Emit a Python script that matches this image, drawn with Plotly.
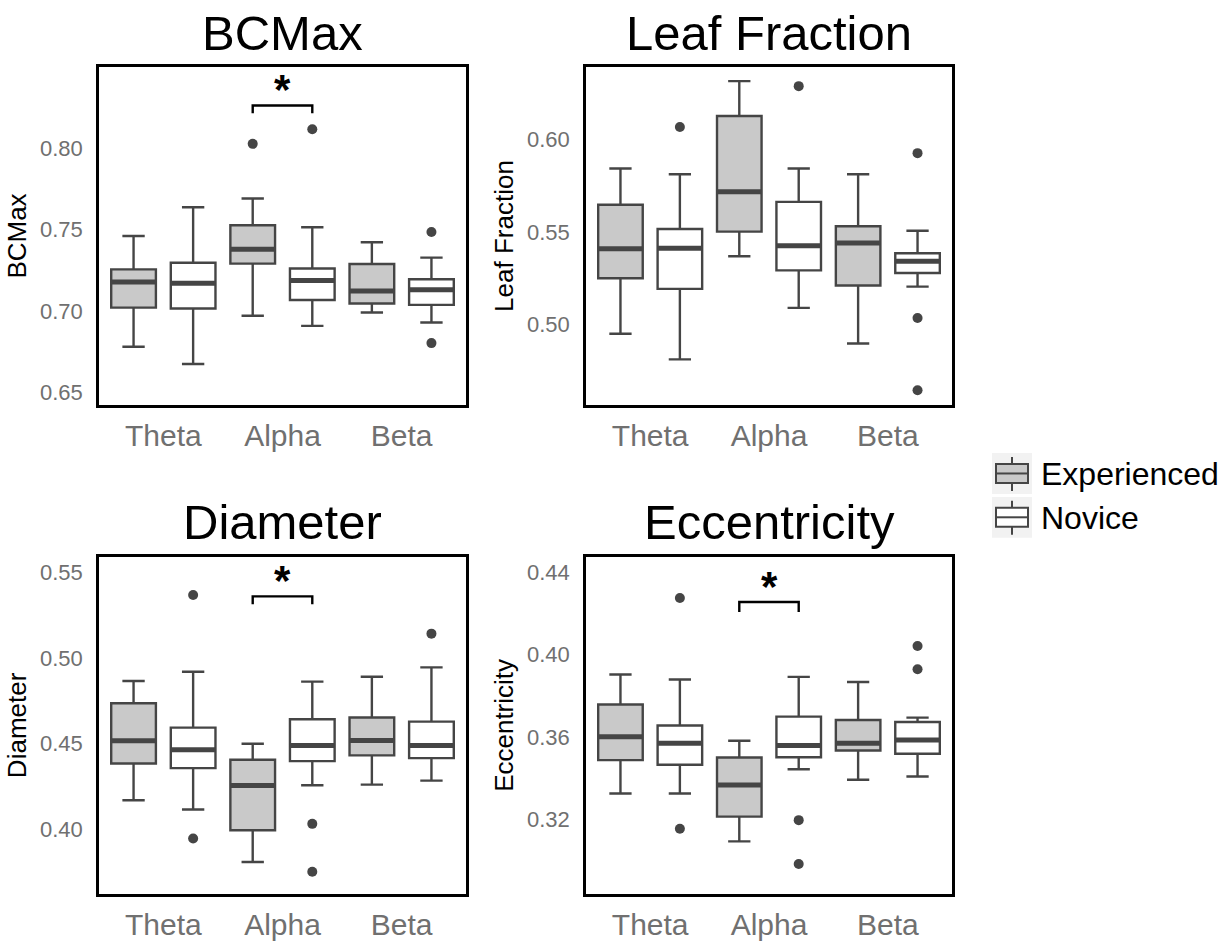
import plotly.graph_objects as go

# ---------------- data ----------------
bands = ["Theta", "Alpha", "Beta"]
groups = ["Experienced", "Novice"]

# BCMax
bcmax_exp_lo = [0.678, 0.697, 0.699]
bcmax_exp_q1 = [0.702, 0.729, 0.7045]
bcmax_exp_med = [0.7178, 0.7378, 0.7122]
bcmax_exp_q3 = [0.7255, 0.7526, 0.7288]
bcmax_exp_hi = [0.746, 0.769, 0.7422]
bcmax_nov_lo = [0.6674, 0.6908, 0.6929]
bcmax_nov_q1 = [0.7015, 0.7067, 0.7037]
bcmax_nov_med = [0.717, 0.7186, 0.7129]
bcmax_nov_q3 = [0.7296, 0.726, 0.7194]
bcmax_nov_hi = [0.7637, 0.7514, 0.7327]
bcmax_out_band = ["Alpha", "Alpha", "Beta", "Beta"]
bcmax_out_group = ["Experienced", "Novice", "Novice", "Novice"]
bcmax_out_val = [0.8026, 0.8116, 0.7484, 0.6802]

# Leaf Fraction
leaf_exp_lo = [0.4949, 0.5368, 0.4897]
leaf_exp_q1 = [0.5249, 0.5501, 0.5210]
leaf_exp_med = [0.5409, 0.5716, 0.5440]
leaf_exp_q3 = [0.5646, 0.6126, 0.5530]
leaf_exp_hi = [0.5842, 0.6314, 0.5811]
leaf_nov_lo = [0.4811, 0.5089, 0.5204]
leaf_nov_q1 = [0.5192, 0.5292, 0.5278]
leaf_nov_med = [0.5411, 0.5425, 0.5341]
leaf_nov_q3 = [0.5515, 0.5662, 0.5384]
leaf_nov_hi = [0.5811, 0.5842, 0.5506]
leaf_out_band = ["Theta", "Alpha", "Beta", "Beta", "Beta"]
leaf_out_group = ["Novice", "Novice", "Novice", "Novice", "Novice"]
leaf_out_val = [0.6066, 0.6287, 0.5925, 0.5034, 0.4644]

# Diameter
diam_exp_lo = [0.4170, 0.3810, 0.4261]
diam_exp_q1 = [0.4384, 0.3995, 0.4431]
diam_exp_med = [0.4516, 0.4255, 0.4518]
diam_exp_q3 = [0.4735, 0.4406, 0.4652]
diam_exp_hi = [0.4865, 0.4499, 0.4890]
diam_nov_lo = [0.4116, 0.4257, 0.4284]
diam_nov_q1 = [0.4357, 0.4398, 0.4415]
diam_nov_med = [0.4464, 0.4489, 0.4489]
diam_nov_q3 = [0.4593, 0.4642, 0.4628]
diam_nov_hi = [0.4919, 0.4861, 0.4944]
diam_out_band = ["Theta", "Theta", "Alpha", "Alpha", "Beta"]
diam_out_group = ["Novice", "Novice", "Novice", "Novice", "Novice"]
diam_out_val = [0.5366, 0.3947, 0.4032, 0.3753, 0.5141]

# Eccentricity
ecc_exp_lo = [0.3326, 0.3094, 0.3393]
ecc_exp_q1 = [0.3488, 0.3214, 0.3535]
ecc_exp_med = [0.3602, 0.3367, 0.3570]
ecc_exp_q3 = [0.3758, 0.3501, 0.3683]
ecc_exp_hi = [0.3903, 0.3582, 0.3867]
ecc_nov_lo = [0.3326, 0.3444, 0.3409]
ecc_nov_q1 = [0.3466, 0.3502, 0.3519]
ecc_nov_med = [0.3570, 0.3559, 0.3586]
ecc_nov_q3 = [0.3656, 0.3699, 0.3673]
ecc_nov_hi = [0.3879, 0.3892, 0.3694]
ecc_out_band = ["Theta", "Theta", "Alpha", "Alpha", "Beta", "Beta"]
ecc_out_group = ["Novice", "Novice", "Novice", "Novice", "Novice", "Novice"]
ecc_out_val = [0.4274, 0.3155, 0.3197, 0.2984, 0.4042, 0.3929]

# significance brackets (band compared, bracket height, tip height)
sig_band = ["Alpha", None, "Alpha", "Alpha"]
sig_top = [0.8262, None, 0.5358, 0.4255]
sig_tip = [0.8214, None, 0.5312, 0.4206]

titles = ["BCMax", "Leaf Fraction", "Diameter", "Eccentricity"]
yranges = [[0.642, 0.850], [0.4563, 0.6392], [0.3622, 0.559], [0.2838, 0.4475]]
ytickvals = [[0.65, 0.70, 0.75, 0.80], [0.50, 0.55, 0.60],
             [0.40, 0.45, 0.50, 0.55], [0.32, 0.36, 0.40, 0.44]]

# ---------------- style ----------------
W, H = 1223, 941
FONT = "Liberation Sans, Arial, Helvetica, sans-serif"
LINE = "#454545"
FILL = {"Experienced": "#c9c9c9", "Novice": "#ffffff"}
OFFSET = {"Experienced": -0.25, "Novice": 0.25}
BOXW = 0.375
TICKGRAY = "#707070"

xdom = [[99 / W, 466 / W], [586 / W, 952 / W]]
ydom = [[1 - 407 / H, 1 - 67 / H], [1 - 898 / H, 1 - 559 / H]]

panels = [
    dict(exp=(bcmax_exp_lo, bcmax_exp_q1, bcmax_exp_med, bcmax_exp_q3, bcmax_exp_hi),
         nov=(bcmax_nov_lo, bcmax_nov_q1, bcmax_nov_med, bcmax_nov_q3, bcmax_nov_hi),
         ob=bcmax_out_band, og=bcmax_out_group, ov=bcmax_out_val),
    dict(exp=(leaf_exp_lo, leaf_exp_q1, leaf_exp_med, leaf_exp_q3, leaf_exp_hi),
         nov=(leaf_nov_lo, leaf_nov_q1, leaf_nov_med, leaf_nov_q3, leaf_nov_hi),
         ob=leaf_out_band, og=leaf_out_group, ov=leaf_out_val),
    dict(exp=(diam_exp_lo, diam_exp_q1, diam_exp_med, diam_exp_q3, diam_exp_hi),
         nov=(diam_nov_lo, diam_nov_q1, diam_nov_med, diam_nov_q3, diam_nov_hi),
         ob=diam_out_band, og=diam_out_group, ov=diam_out_val),
    dict(exp=(ecc_exp_lo, ecc_exp_q1, ecc_exp_med, ecc_exp_q3, ecc_exp_hi),
         nov=(ecc_nov_lo, ecc_nov_q1, ecc_nov_med, ecc_nov_q3, ecc_nov_hi),
         ob=ecc_out_band, og=ecc_out_group, ov=ecc_out_val),
]

fig = go.Figure()
layout = dict(
    width=W, height=H, margin=dict(l=0, r=0, t=0, b=0),
    paper_bgcolor="white", plot_bgcolor="white", showlegend=False,
    font=dict(family=FONT), annotations=[], shapes=[],
)

for i, p in enumerate(panels):
    ax = "" if i == 0 else str(i + 1)
    xa, ya = "x" + ax, "y" + ax
    row, col = divmod(i, 2)
    for g, key in (("Experienced", "exp"), ("Novice", "nov")):
        lo, q1, med, q3, hi = p[key]
        xs = [b + OFFSET[g] for b in range(len(bands))]
        fig.add_trace(go.Box(
            x=xs, q1=q1, median=med, q3=q3, lowerfence=lo, upperfence=hi,
            width=BOXW, fillcolor=FILL[g], line=dict(color=LINE, width=2.4),
            boxpoints=False, name=g, xaxis=xa, yaxis=ya, hoverinfo="skip",
        ))
        # thick median bar
        mx, my = [], []
        for b, m in zip(xs, med):
            mx += [b - BOXW / 2, b + BOXW / 2, None]
            my += [m, m, None]
        fig.add_trace(go.Scatter(x=mx, y=my, mode="lines",
                                 line=dict(color=LINE, width=5),
                                 xaxis=xa, yaxis=ya, hoverinfo="skip"))
    # outliers
    ox = [bands.index(b) + OFFSET[g] for b, g in zip(p["ob"], p["og"])]
    fig.add_trace(go.Scatter(x=ox, y=p["ov"], mode="markers",
                             marker=dict(color=LINE, size=10),
                             xaxis=xa, yaxis=ya, hoverinfo="skip"))
    # significance bracket
    if sig_band[i] is not None:
        c = bands.index(sig_band[i])
        x0, x1 = c + OFFSET["Experienced"], c + OFFSET["Novice"]
        fig.add_trace(go.Scatter(
            x=[x0, x0, x1, x1], y=[sig_tip[i], sig_top[i], sig_top[i], sig_tip[i]],
            mode="lines", line=dict(color="black", width=2.4),
            xaxis=xa, yaxis=ya, hoverinfo="skip"))
        layout["annotations"].append(dict(
            x=c, y=sig_top[i], xref=xa, yref=ya, text="<b>*</b>", showarrow=False,
            yanchor="bottom", yshift=-10, font=dict(size=42, color="black", family=FONT)))

    layout["xaxis" + ax] = dict(
        domain=xdom[col], anchor=ya, range=[-0.54, 2.54],
        tickvals=list(range(len(bands))), ticktext=bands,
        tickfont=dict(size=30, color=TICKGRAY, family=FONT),
        showgrid=False, zeroline=False, showline=True, mirror=True,
        linecolor="black", linewidth=2.5, ticks="", ticklabelstandoff=2,
    )
    layout["yaxis" + ax] = dict(
        domain=ydom[row], anchor=xa, range=yranges[i],
        tickvals=ytickvals[i], tickformat=".2f",
        tickfont=dict(size=22, color=TICKGRAY, family=FONT),
        showgrid=False, zeroline=False, showline=True, mirror=True,
        linecolor="black", linewidth=2.5, ticks="", ticklabelstandoff=9,
        title=dict(text=titles[i], font=dict(size=26, color="black", family=FONT), standoff=6),
    )
    # panel title
    cx = (xdom[col][0] + xdom[col][1]) / 2
    ty = (1 - 33 / H) if row == 0 else (1 - 524 / H)
    layout["annotations"].append(dict(
        x=cx, y=ty, xref="paper", yref="paper", text=titles[i], showarrow=False,
        xanchor="center", yanchor="middle",
        font=dict(size=49, color="black", family=FONT)))

# ---------------- legend (drawn) ----------------
def px(x):
    return x / W

def py(y):
    return 1 - y / H

for j, g in enumerate(groups):
    top = 455 + j * 44
    layout["shapes"].append(dict(type="rect", xref="paper", yref="paper",
                                 x0=px(992), x1=px(1032), y0=py(top), y1=py(top + 41),
                                 fillcolor="#f2f2f2", line=dict(width=0)))
    layout["shapes"].append(dict(type="line", xref="paper", yref="paper",
                                 x0=px(1012), x1=px(1012), y0=py(top + 4), y1=py(top + 38),
                                 line=dict(color=LINE, width=2)))
    layout["shapes"].append(dict(type="rect", xref="paper", yref="paper",
                                 x0=px(996), x1=px(1028), y0=py(top + 11), y1=py(top + 30),
                                 fillcolor=FILL[g], line=dict(color=LINE, width=2)))
    layout["shapes"].append(dict(type="line", xref="paper", yref="paper",
                                 x0=px(996), x1=px(1028), y0=py(top + 20.5), y1=py(top + 20.5),
                                 line=dict(color=LINE, width=2)))
    layout["annotations"].append(dict(
        x=px(1039), y=py(top + 21), xref="paper", yref="paper", text=g, showarrow=False,
        xanchor="left", yanchor="middle", font=dict(size=32, color="black", family=FONT)))

fig.update_layout(**layout)
fig.write_html("out.html")
